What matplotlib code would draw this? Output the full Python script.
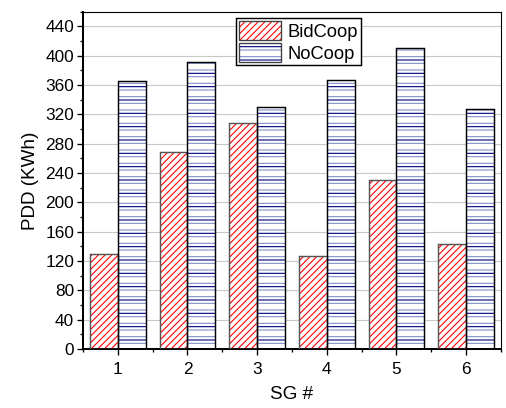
import numpy as np
import matplotlib
matplotlib.use('Agg')
from matplotlib import pyplot as plt
from matplotlib.patches import Patch
from matplotlib.ticker import MultipleLocator

sg = [1, 2, 3, 4, 5, 6]
bidcoop = [130, 268, 308, 127, 231, 143]
nocoop = [365, 391, 330, 367, 411, 327]

plt.rcParams['font.family'] = ['Liberation Sans', 'DejaVu Sans']
plt.rcParams['hatch.linewidth'] = 1.0

dpi = 80
fig = plt.figure(figsize=(506 / dpi, 408 / dpi), dpi=dpi)
ax = fig.add_axes([0.164, 0.145, 0.826, 0.826])

x = np.array(sg)
w = 0.4
red_edge = '#555555'
light_blue = '#8090c8'
navy = '#000080'

# hatch layers first, then outlines on top
ax.bar(x - w / 2, bidcoop, w, color='white', edgecolor='red', hatch='////', linewidth=0, zorder=2)
ax.bar(x - w / 2, bidcoop, w, fill=False, edgecolor=red_edge, linewidth=1.3, zorder=3)
ax.bar(x + w / 2, nocoop, w, color='white', edgecolor=light_blue, hatch='--', linewidth=0, zorder=2)
ax.bar(x + w / 2, nocoop, w, fill=False, edgecolor=navy, hatch='-', linewidth=0, zorder=2.5)
ax.bar(x + w / 2, nocoop, w, fill=False, edgecolor='black', linewidth=1.3, zorder=3)

ax.set_xlim(0.5, 6.5)
ax.set_ylim(0, 460)
ax.set_xticks(sg)
ax.xaxis.set_minor_locator(MultipleLocator(1, offset=0.5))
ax.yaxis.set_major_locator(MultipleLocator(40))
ax.yaxis.set_minor_locator(MultipleLocator(20))
ax.tick_params(which='both', direction='out', top=False, right=False, labelsize=15.5, width=1.2)
ax.tick_params(which='major', length=5)
ax.tick_params(which='minor', length=3)
ax.tick_params(axis='x', pad=7)
ax.tick_params(axis='y', pad=3)
ax.grid(axis='y', color='#c8c8c8', linewidth=1, zorder=0)
ax.set_axisbelow(True)
for s in ax.spines.values():
    s.set_linewidth(1.0)
ax.spines['bottom'].set_linewidth(1.8)
ax.spines['left'].set_linewidth(1.8)

ax.set_xlabel('SG #', fontsize=17, labelpad=8)
ax.set_ylabel('PDD (KWh)', fontsize=17, labelpad=6)

# legend handles: hatch layers overlaid with a grey outline
h1 = (Patch(facecolor='white', edgecolor='red', hatch='////', linewidth=0),
      Patch(fill=False, edgecolor='#404040', linewidth=1.2))
h2 = (Patch(facecolor='white', edgecolor=light_blue, hatch='--', linewidth=0),
      Patch(fill=False, edgecolor=navy, hatch='-', linewidth=0),
      Patch(fill=False, edgecolor='#404040', linewidth=1.2))
leg = ax.legend([h1, h2], ['BidCoop', 'NoCoop'], loc='upper left', bbox_to_anchor=(0.367, 0.982),
                fontsize=16.5, fancybox=False, edgecolor='black', framealpha=1,
                handlelength=2.3, handleheight=1.25, handletextpad=0.35, borderpad=0.15,
                labelspacing=0.12, borderaxespad=0)
leg.get_frame().set_linewidth(1.3)

fig.savefig('out.png', dpi=dpi)
